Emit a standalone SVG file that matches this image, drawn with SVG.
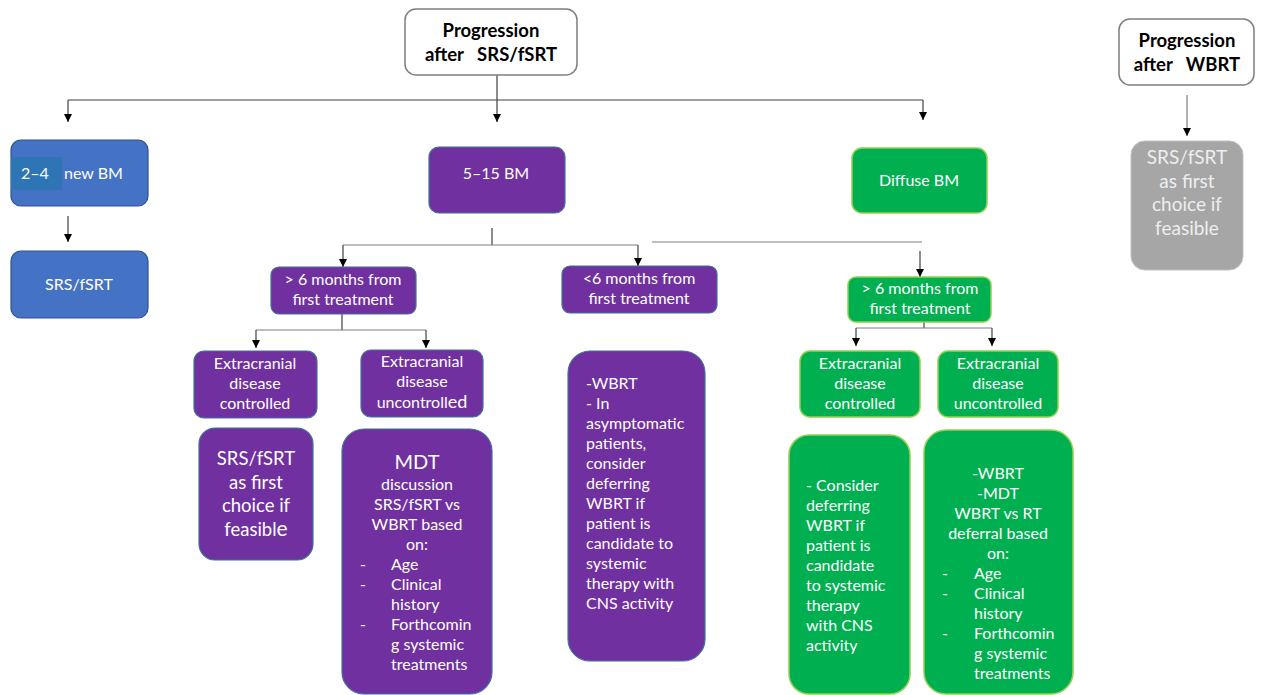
<svg xmlns="http://www.w3.org/2000/svg" width="1261" height="695" viewBox="0 0 1261 695">
<defs>
<marker id="ah" viewBox="0 0 10 10" refX="10" refY="5" markerWidth="8" markerHeight="8" markerUnits="userSpaceOnUse" orient="auto"><path d="M0,0 L10,5 L0,10 z" fill="#000"/></marker>
<style>
text{font-family:Lato,"Open Sans","Liberation Sans",sans-serif;fill:#fff;font-size:16px}
.t{fill:#000;font-weight:bold;font-size:18.5px;text-anchor:middle}
.c{text-anchor:middle}
.big{font-size:18.5px}
.w{fill:#fff;stroke:#7f7f7f;stroke-width:1.5}
.b{fill:#4472c4;stroke:#2f528f;stroke-width:1.2}
.p{fill:#7030a0;stroke:#41719c;stroke-width:1.2}
.g{fill:#00b050;stroke:#92d050;stroke-width:1.5}
.gr{fill:#a6a6a6;stroke:#bfbfbf;stroke-width:1}
.ln{fill:none;stroke:#404040;stroke-width:1.2}
.lg{fill:none;stroke:#7f7f7f;stroke-width:1.2}
.ar{marker-end:url(#ah)}
</style>
</defs>

<g id="connectors">
<path class="ln" d="M497,75 V100"/>
<path class="ln" d="M68,100 H923"/>
<path class="ln ar" d="M68,100 V122"/>
<path class="ln ar" d="M497,100 V122"/>
<path class="ln ar" d="M923,100 V120"/>
<path class="lg ar" d="M1187,95 V136"/>
<path class="ln ar" d="M68,216 V242"/>
<path class="ln" d="M492,228 V245"/>
<path class="lg" d="M343,245 H638"/>
<path class="ln ar" d="M343,245 V267"/>
<path class="ln ar" d="M638,245 V266"/>
<path class="lg" d="M652,242 H922"/>
<path class="ln ar" d="M920,251 V277"/>
<path class="ln" d="M342,314 V330"/>
<path class="lg" d="M256,330 H426"/>
<path class="ln ar" d="M256,330 V348"/>
<path class="ln ar" d="M426,330 V348"/>
<path class="ln" d="M924,318 V328"/>
<path class="lg" d="M856,328 H992"/>
<path class="ln ar" d="M856,328 V346"/>
<path class="ln ar" d="M992,328 V346"/>
</g>

<g id="n-prog-srs">
<rect class="w" x="405" y="9" width="172" height="66" rx="11"/>
<text class="t" x="491" y="37">Progression</text>
<text class="t" x="491" y="61">after&#160;&#160;&#160;SRS/fSRT</text>
</g>

<g id="n-prog-wbrt">
<rect class="w" x="1119" y="19" width="135" height="66" rx="11"/>
<text class="t" x="1187" y="47">Progression</text>
<text class="t" x="1187" y="71">after&#160;&#160;&#160;WBRT</text>
</g>

<g id="n-wbrt-srs">
<rect class="gr" x="1131" y="141" width="112" height="129" rx="14"/>
<text class="c big" x="1187" y="164" style="fill:#eeeeee;font-size:19px">SRS/fSRT</text>
<text class="c big" x="1187" y="188" style="fill:#eeeeee;font-size:19px">as first</text>
<text class="c big" x="1187" y="211" style="fill:#eeeeee;font-size:19px">choice if</text>
<text class="c big" x="1187" y="235" style="fill:#eeeeee;font-size:19px">feasible</text>
</g>

<g id="n-24">
<rect class="b" x="11" y="140" width="137" height="66" rx="10"/>
<rect x="11" y="157" width="51" height="33" fill="#2e75b6"/>
<text x="21" y="179">2–4</text>
<text x="64" y="179">new BM</text>
</g>

<g id="n-24-srs">
<rect class="b" x="11" y="251" width="137" height="67" rx="10"/>
<text class="c" x="79" y="290">SRS/fSRT</text>
</g>

<g id="n-515">
<rect class="p" x="429" y="147" width="136" height="66" rx="10"/>
<text class="c" x="496" y="179">5–15 BM</text>
</g>

<g id="n-diffuse">
<rect class="g" x="852" y="148" width="135" height="65" rx="10"/>
<text class="c" x="919" y="186">Diffuse BM</text>
</g>

<g id="n-p-gt6">
<rect class="p" x="271" y="267" width="145" height="47" rx="8"/>
<text class="c" x="343" y="285">&gt; 6 months from</text>
<text class="c" x="343" y="305">first treatment</text>
</g>

<g id="n-p-lt6">
<rect class="p" x="562" y="266" width="155" height="47" rx="8"/>
<text class="c" x="639" y="284">&lt;6 months from</text>
<text class="c" x="639" y="304">first treatment</text>
</g>

<g id="n-g-gt6">
<rect class="g" x="848" y="277" width="143" height="45" rx="8"/>
<text class="c" x="920" y="294">&gt; 6 months from</text>
<text class="c" x="920" y="314">first treatment</text>
</g>

<g id="n-p-ctrl">
<rect class="p" x="194" y="351" width="123" height="67" rx="10"/>
<text class="c" x="255" y="369">Extracranial</text>
<text class="c" x="255" y="389">disease</text>
<text class="c" x="255" y="409">controlled</text>
</g>

<g id="n-p-unctrl">
<rect class="p" x="361" y="350" width="122" height="67" rx="10"/>
<text class="c" x="422" y="367">Extracranial</text>
<text class="c" x="422" y="387">disease</text>
<text class="c" x="422" y="408">uncontroll<tspan font-size="18">ed</tspan></text>
</g>

<g id="n-g-ctrl">
<rect class="g" x="800" y="351" width="120" height="66" rx="10"/>
<text class="c" x="860" y="369">Extracranial</text>
<text class="c" x="860" y="389">disease</text>
<text class="c" x="860" y="409">controlled</text>
</g>

<g id="n-g-unctrl">
<rect class="g" x="938" y="351" width="120" height="66" rx="10"/>
<text class="c" x="998" y="369">Extracranial</text>
<text class="c" x="998" y="389">disease</text>
<text class="c" x="998" y="409">uncontrolled</text>
</g>

<g id="n-p-srs">
<rect class="p" x="199" y="428" width="114" height="132" rx="16"/>
<text class="c big" x="256" y="465">SRS/fSRT</text>
<text class="c big" x="256" y="489">as first</text>
<text class="c big" x="256" y="512">choice if</text>
<text class="c big" x="256" y="536">feasibl<tspan font-size="21">e</tspan></text>
</g>

<g id="n-p-mdt">
<rect class="p" x="342" y="429" width="150" height="265" rx="22"/>
<text class="c" x="417" y="469" style="font-size:20px">MDT</text>
<text class="c" x="417" y="490">discussion</text>
<text class="c" x="417" y="510">SRS/fSRT vs</text>
<text class="c" x="417" y="530">WBRT based</text>
<text class="c" x="417" y="550">on:</text>
<text x="360" y="570">-</text><text x="391" y="570">Age</text>
<text x="360" y="590">-</text><text x="391" y="590">Clinical</text>
<text x="391" y="610">history</text>
<text x="360" y="630">-</text><text x="391" y="630">Forthcomin</text>
<text x="391" y="650">g systemic</text>
<text x="391" y="670">treatments</text>
</g>

<g id="n-p-wbrt">
<rect class="p" x="568" y="351" width="137" height="310" rx="22"/>
<text x="586" y="389">-WBRT</text>
<text x="586" y="409">- In</text>
<text x="586" y="429">asymptomatic</text>
<text x="586" y="449">patients,</text>
<text x="586" y="469">consider</text>
<text x="586" y="489">deferring</text>
<text x="586" y="509">WBRT if</text>
<text x="586" y="529">patient is</text>
<text x="586" y="549">candidate to</text>
<text x="586" y="569">systemic</text>
<text x="586" y="589">therapy with</text>
<text x="586" y="609">CNS activity</text>
</g>

<g id="n-g-defer">
<rect class="g" x="789" y="435" width="121" height="259" rx="20"/>
<text x="806" y="491">- Consider</text>
<text x="806" y="511">deferring</text>
<text x="806" y="531">WBRT if</text>
<text x="806" y="551">patient is</text>
<text x="806" y="571">candidate</text>
<text x="806" y="591">to systemic</text>
<text x="806" y="611">therapy</text>
<text x="806" y="631">with CNS</text>
<text x="806" y="651">activity</text>
</g>

<g id="n-g-wbrt">
<rect class="g" x="924" y="430" width="149" height="264" rx="22"/>
<text class="c" x="998" y="479">-WBRT</text>
<text class="c" x="998" y="499">-MDT</text>
<text class="c" x="998" y="519">WBRT vs RT</text>
<text class="c" x="998" y="539">deferral based</text>
<text class="c" x="998" y="559">on:</text>
<text x="942" y="579">-</text><text x="974" y="579">Age</text>
<text x="942" y="599">-</text><text x="974" y="599">Clinical</text>
<text x="974" y="619">history</text>
<text x="942" y="639">-</text><text x="974" y="639">Forthcomin</text>
<text x="974" y="659">g systemic</text>
<text x="974" y="679">treatments</text>
</g>
</svg>
